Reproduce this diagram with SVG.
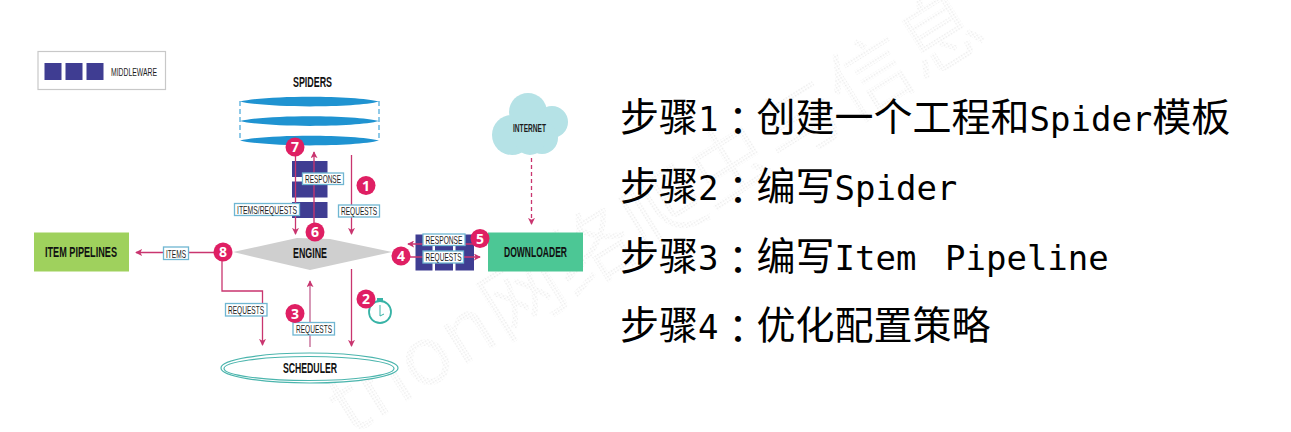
<svg xmlns="http://www.w3.org/2000/svg" width="1291" height="432" viewBox="0 0 1291 432">
<style>
.lbl{font-family:"Liberation Sans Narrow","Liberation Sans",sans-serif;font-size:10.5px;fill:#1c1c1c;text-anchor:middle}
.ttl{font-family:"Liberation Sans Narrow","Liberation Sans",sans-serif;font-weight:700;font-size:14px;fill:#111;text-anchor:middle}
.box{fill:#fff;stroke:#6fb6d2;stroke-width:1.300}
.mw{fill:#3f3d92}
.num{font-family:"Open Sans","Liberation Sans",sans-serif;font-weight:700;font-size:14px;fill:#fff;text-anchor:middle}
.badge{fill:#df1f63}
.ln{fill:none;stroke:#c9356f;stroke-width:1.300}
.step{font-family:"Noto Sans CJK SC",sans-serif;font-size:39px;fill:#000}
.m{font-family:"DejaVu Sans Mono",monospace;font-size:34px}
.c{font-family:"Noto Sans CJK TC",sans-serif}
.disc{fill:#1f93d1}
</style>
<defs>
<marker id="ah" viewBox="0 0 8 8" refX="7" refY="4" markerWidth="7" markerHeight="7" markerUnits="userSpaceOnUse" orient="auto"><path d="M0 0L8 4L0 8L2 4Z" fill="#c9356f"/></marker>
<pattern id="dots" width="3" height="3" patternUnits="userSpaceOnUse"><rect width="1.500" height="1.500" fill="#ececec"/></pattern>
</defs>
<rect width="1291" height="432" fill="#fff"/>
<text transform="translate(350 437) rotate(-32)" font-family="Noto Sans CJK SC,sans-serif" font-size="82" fill="url(#dots)">thon网络爬虫与信息</text>

<g id="legend">
<rect x="38" y="51.500" width="127.500" height="38" fill="#fff" stroke="#c8c8c8" stroke-width="1.200"/>
<rect class="mw" x="44.500" y="63" width="17" height="17"/><rect class="mw" x="65.500" y="63" width="17" height="17"/><rect class="mw" x="86.500" y="63" width="17" height="17"/>
<text class="lbl" x="134" y="76" textLength="46" lengthAdjust="spacingAndGlyphs">MIDDLEWARE</text>
</g>

<g id="spiders">
<text class="ttl" x="312.500" y="87" textLength="39" lengthAdjust="spacingAndGlyphs">SPIDERS</text>
<path d="M240 101V140M379 101V140" stroke="#1f93d1" stroke-width="1" stroke-dasharray="5 3" fill="none"/>
<path class="disc" d="M240 101.500C265 95 355 95 379 101.500C355 108 265 108 240 101.500Z"/>
<path class="disc" d="M240 121C265 114.500 355 114.500 379 121C355 127.500 265 127.500 240 121Z"/>
<path class="disc" d="M240 140.500C265 134 355 134 379 140.500C355 147 265 147 240 140.500Z"/>
</g>

<g id="cloud">
<g fill="#b5e2e6"><circle cx="512" cy="135" r="20"/><circle cx="528" cy="112" r="19"/><circle cx="552" cy="122" r="16"/><circle cx="542" cy="138" r="16"/><circle cx="530" cy="140" r="15"/></g>
<text class="lbl" x="529.500" y="132" style="font-size:11.500px;font-weight:700" textLength="33" lengthAdjust="spacingAndGlyphs">INTERNET</text>
</g>

<g id="engine">
<path d="M233 252L297 238L330 239L392 252L310 270Z" fill="#cfcfcf"/>
<text class="ttl" x="310" y="258" textLength="34" lengthAdjust="spacingAndGlyphs">ENGINE</text>
</g>

<g id="downloader">
<rect x="488" y="232.500" width="95" height="39" fill="#4cc795"/>
<text class="ttl" x="535.500" y="257" textLength="63" lengthAdjust="spacingAndGlyphs">DOWNLOADER</text>
</g>

<g id="item-pipelines">
<rect x="34" y="232.500" width="95" height="39" fill="#9fd15d"/>
<text class="ttl" x="81" y="257" textLength="72" lengthAdjust="spacingAndGlyphs">ITEM PIPELINES</text>
</g>

<g id="scheduler">
<ellipse cx="309.500" cy="368" rx="88.500" ry="15" fill="#fff" stroke="#4bb5ad" stroke-width="1.200"/>
<ellipse cx="309" cy="368.500" rx="85" ry="12" fill="#fff" stroke="#4bb5ad" stroke-width="1.200"/>
<text class="ttl" x="310" y="373" textLength="54" lengthAdjust="spacingAndGlyphs">SCHEDULER</text>
</g>

<g id="middleware-spider">
<rect class="mw" x="292" y="161" width="35.500" height="16"/><rect class="mw" x="292" y="181.500" width="35.500" height="16"/><rect class="mw" x="292" y="202" width="35.500" height="16"/>
</g>
<g id="middleware-downloader">
<rect class="mw" x="415.500" y="234.500" width="58.500" height="36"/>
<rect x="432.500" y="246" width="2.500" height="25" fill="#fff"/><rect x="453" y="246" width="2.500" height="25" fill="#fff"/>
</g>

<g id="connectors">
<path class="ln" d="M295.500 147V234" marker-end="url(#ah)"/>
<path class="ln" d="M314 232V152" marker-end="url(#ah)"/>
<path class="ln" d="M351.500 155V234" marker-end="url(#ah)"/>
<path class="ln" d="M351.500 269V346" marker-end="url(#ah)"/>
<path class="ln" d="M310 347V281" style="stroke:#c2608f" marker-end="url(#ah)"/>
<path class="ln" d="M223 252.500H136" marker-end="url(#ah)"/>
<path class="ln" d="M222 252V291H262.500V345" marker-end="url(#ah)"/>
<path class="ln" d="M480 244H408" marker-end="url(#ah)"/>
<path class="ln" d="M401 257H480" marker-end="url(#ah)"/>
<path class="ln" d="M531.500 158V224" stroke-dasharray="4 3" marker-end="url(#ah)"/>
</g>

<g id="labels">
<rect class="box" x="302.500" y="173" width="41" height="11.500"/><text class="lbl" x="323" y="182.500" textLength="36" lengthAdjust="spacingAndGlyphs">RESPONSE</text>
<rect class="box" x="234.500" y="203.500" width="65" height="12"/><text class="lbl" x="267" y="213.500" textLength="60" lengthAdjust="spacingAndGlyphs">ITEMS/REQUESTS</text>
<rect class="box" x="338.500" y="205" width="41" height="12"/><text class="lbl" x="359" y="215" textLength="36" lengthAdjust="spacingAndGlyphs">REQUESTS</text>
<rect class="box" x="163.500" y="247" width="25" height="12.500"/><text class="lbl" x="176" y="257.500" textLength="20" lengthAdjust="spacingAndGlyphs">ITEMS</text>
<rect class="box" x="225.500" y="303.500" width="41.500" height="12.500"/><text class="lbl" x="246" y="314" textLength="36" lengthAdjust="spacingAndGlyphs">REQUESTS</text>
<rect class="box" x="293" y="322.500" width="41.500" height="12.500"/><text class="lbl" x="314" y="333" textLength="36" lengthAdjust="spacingAndGlyphs">REQUESTS</text>
<rect class="box" x="423" y="234" width="42" height="11.500"/><text class="lbl" x="444" y="244" textLength="37" lengthAdjust="spacingAndGlyphs">RESPONSE</text>
<rect class="box" x="423" y="251" width="40.500" height="12"/><text class="lbl" x="443.500" y="261" textLength="36" lengthAdjust="spacingAndGlyphs">REQUESTS</text>
</g>

<g id="clock">
<circle cx="380" cy="312" r="11" fill="#fff" stroke="#38b3a6" stroke-width="1.800"/>
<rect x="377" y="298" width="6" height="3" fill="#38b3a6"/>
<path d="M380 305V316L384 314" fill="none" stroke="#38b3a6" stroke-width="1"/>
</g>

<g id="badges">
<circle class="badge" cx="295" cy="147" r="9.500"/><text class="num" x="295" y="152">7</text>
<circle class="badge" cx="366" cy="185.500" r="9.500"/><text class="num" x="366" y="190.500">1</text>
<circle class="badge" cx="315" cy="232" r="9.500"/><text class="num" x="315" y="237">6</text>
<circle class="badge" cx="223" cy="252" r="9.500"/><text class="num" x="223" y="257">8</text>
<circle class="badge" cx="401" cy="256" r="9.500"/><text class="num" x="401" y="261">4</text>
<circle class="badge" cx="480" cy="238.500" r="9.500"/><text class="num" x="480" y="243.500">5</text>
<circle class="badge" cx="366" cy="299" r="9.500"/><text class="num" x="366" y="304">2</text>
<circle class="badge" cx="295" cy="313.500" r="9.500"/><text class="num" x="295" y="318.500">3</text>
</g>

<g id="steps">
<text class="step" x="620" y="131">步骤<tspan class="m">1</tspan><tspan class="c" dy="4">：</tspan><tspan x="756.500" dy="-4">创建一个工程和</tspan><tspan class="m">Spider</tspan>模板</text>
<text class="step" x="620" y="200">步骤<tspan class="m">2</tspan><tspan class="c" dy="4">：</tspan><tspan x="756.500" dy="-4">编写</tspan><tspan class="m">Spider</tspan></text>
<text class="step" x="620" y="270">步骤<tspan class="m">3</tspan><tspan class="c" dy="4">：</tspan><tspan x="756.500" dy="-4">编写</tspan><tspan class="m">Item</tspan> <tspan class="m" x="945">Pipeline</tspan></text>
<text class="step" x="620" y="339">步骤<tspan class="m">4</tspan><tspan class="c" dy="4">：</tspan><tspan x="756.500" dy="-4">优化配置策略</tspan></text>
</g>
</svg>
